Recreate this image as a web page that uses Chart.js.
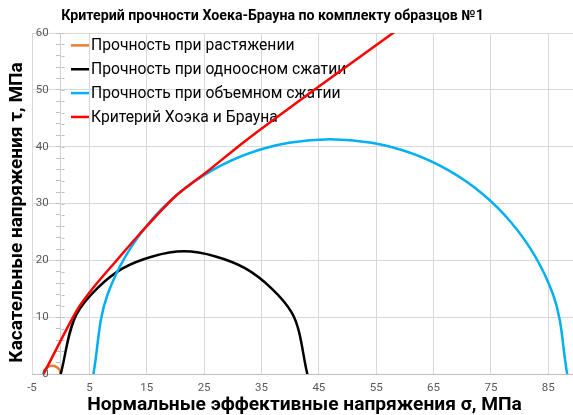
<!DOCTYPE html>
<html lang="ru">
<head>
<meta charset="utf-8">
<title>Критерий прочности Хоека-Брауна</title>
<script src="https://cdn.jsdelivr.net/npm/chart.js@4.4.1/dist/chart.umd.min.js"></script>
<style>
  html, body { margin: 0; padding: 0; overflow: hidden; background: #ffffff; }
  #wrap { width: 577px; height: 415px; }
</style>
</head>
<body>
<div id="wrap"><canvas id="chart" width="577" height="415"></canvas></div>
<script>
// Texts
const chartTitle = 'Критерий прочности Хоека-Брауна по комплекту образцов №1';
const xAxisTitle = 'Нормальные эффективные напряжения σ, МПа';
const yAxisTitle = 'Касательные напряжения τ, МПа';
const seriesNames = [
  'Прочность при растяжении',
  'Прочность при одноосном сжатии',
  'Прочность при объемном сжатии',
  'Критерий Хоэка и Брауна'
];
const seriesColors = ['#ED7D31', '#000000', '#00B0F0', '#FF0000'];

// Axis ticks
const xTicks = [-5, 5, 15, 25, 35, 45, 55, 65, 75, 85];
const yMajorStep = 10;
const yMinorStep = 2;

// Mohr circle: tension (σ, τ in MPa)
const tensionSigma = [-3.0, -2.8, -2.25, -1.5, -0.75, -0.2, 0.0];
const tensionTau   = [0, 0.75, 1.3, 1.5, 1.3, 0.75, 0];

// Mohr circle: uniaxial compression
const uniaxialSigma = [0, 2.9, 10.8, 21.5, 32.2, 40.3, 43.0];
const uniaxialTau   = [0, 10.8, 18.6, 21.6, 18.6, 10.8, 0];

// Mohr circle: triaxial compression
const triaxialSigma = [5.7, 8.2, 15.4, 26.3, 39.8, 54.2, 67.7, 78.6, 85.8, 88.3];
const triaxialTau   = [0, 14.1, 26.6, 35.8, 40.7, 40.7, 35.8, 26.6, 14.1, 0];

// Hoek-Brown envelope
const envelopeSigma = [-3.0, 2.8, 6.0, 10.0, 13.8, 20.0, 25.5, 32.4, 45.0, 60.0];
const envelopeTau   = [0, 11.2, 15.6, 20.3, 24.7, 31.3, 35.6, 41.2, 50.6, 61.5];

const toPoints = (xs, ys) => xs.map((x, i) => ({ x: x, y: ys[i] }));

const seriesData = [
  toPoints(tensionSigma, tensionTau),
  toPoints(uniaxialSigma, uniaxialTau),
  toPoints(triaxialSigma, triaxialTau),
  toPoints(envelopeSigma, envelopeTau)
];
// envelope on top, then triaxial, uniaxial, tension
const drawOrder = [3, 2, 1, 0];
const curveTension = [0.35, 0.3, 0.35, 0.3];

const FONT = 'Roboto, "Noto Sans", sans-serif';
Chart.defaults.font.family = FONT;

// Titles, y tick labels and in-plot legend
const decorations = {
  id: 'decorations',
  beforeDatasetsDraw(chart) {
    const { ctx, chartArea, scales } = chart;
    ctx.save();
    // tick marks crossing the vertical axis (right half)
    const axisX = Math.round(scales.x.getPixelForValue(0)) + 0.5;
    ctx.strokeStyle = '#BFBFBF';
    ctx.lineWidth = 1;
    scales.y.ticks.forEach(t => {
      const y = Math.round(scales.y.getPixelForValue(t.value)) + 0.5;
      ctx.beginPath();
      ctx.moveTo(axisX, y);
      ctx.lineTo(axisX + 3, y);
      ctx.stroke();
    });
    // legend
    ctx.font = '15.7px ' + FONT;
    ctx.textBaseline = 'middle';
    ctx.textAlign = 'left';
    chart.data.datasets.forEach((ds, i) => {
      const y = chartArea.top + 12.4 + i * 23.85;
      const x0 = chartArea.left + 39;
      ctx.strokeStyle = ds.borderColor;
      ctx.lineWidth = 2.5;
      ctx.beginPath();
      ctx.moveTo(x0, y);
      ctx.lineTo(x0 + 18, y);
      ctx.stroke();
      ctx.fillStyle = '#000000';
      ctx.fillText(ds.label, x0 + 20, y + 1);
    });
    ctx.restore();
  },
  afterDraw(chart) {
    const { ctx, chartArea, scales } = chart;
    ctx.save();
    // y tick labels, left of the vertical axis
    const axisX = scales.x.getPixelForValue(0);
    ctx.font = '11.5px ' + FONT;
    ctx.fillStyle = '#595959';
    ctx.textAlign = 'right';
    ctx.textBaseline = 'middle';
    scales.y.ticks.forEach(t => {
      if (t.value % yMajorStep === 0) {
        ctx.fillText(String(t.value), axisX - 12, scales.y.getPixelForValue(t.value));
      }
    });
    // titles
    ctx.fillStyle = '#000000';
    ctx.textAlign = 'center';
    ctx.font = 'bold 14.2px ' + FONT;
    ctx.fillText(chartTitle, 272.5, 16);
    ctx.font = 'bold 19.2px ' + FONT;
    ctx.fillText(xAxisTitle, (chartArea.left + chartArea.right) / 2, 405);
    ctx.translate(17.5, 212.5);
    ctx.rotate(-Math.PI / 2);
    ctx.font = 'bold 19px ' + FONT;
    ctx.fillText(yAxisTitle, 0, 0);
    ctx.restore();
  }
};

new Chart(document.getElementById('chart'), {
  type: 'scatter',
  data: {
    datasets: seriesData.map((pts, i) => ({
      label: seriesNames[i],
      data: pts,
      showLine: true,
      borderColor: seriesColors[i],
      backgroundColor: seriesColors[i],
      borderWidth: 2.5,
      pointRadius: 0,
      pointHoverRadius: 0,
      tension: curveTension[i],
      fill: false,
      order: drawOrder[i]
    }))
  },
  options: {
    responsive: false,
    animation: false,
    devicePixelRatio: 1,
    layout: { autoPadding: false, padding: { left: 32, top: 33, right: 0, bottom: 13 } },
    plugins: {
      legend: { display: false },
      title: { display: false },
      tooltip: { enabled: false }
    },
    scales: {
      x: {
        type: 'linear',
        min: -5,
        max: 90,
        afterBuildTicks: (scale) => { scale.ticks = xTicks.map(v => ({ value: v })); },
        grid: { color: '#D9D9D9', lineWidth: 1, drawTicks: false },
        border: { display: true, color: '#BFBFBF', width: 1 },
        ticks: { color: '#595959', font: { size: 11.5 }, padding: 7, autoSkip: false, maxRotation: 0 }
      },
      y: {
        type: 'linear',
        position: { x: 0 },
        min: 0,
        max: 60,
        ticks: {
          stepSize: yMinorStep,
          autoSkip: false,
          display: false
        },
        grid: {
          color: (c) => (c.tick && c.tick.value % yMajorStep === 0 ? '#D9D9D9' : 'rgba(0,0,0,0)'),
          tickColor: '#BFBFBF',
          tickLength: 4,
          lineWidth: 1
        },
        border: { display: true, color: '#D0D0D0', width: 1 }
      }
    }
  },
  plugins: [decorations]
});
</script>
</body>
</html>
